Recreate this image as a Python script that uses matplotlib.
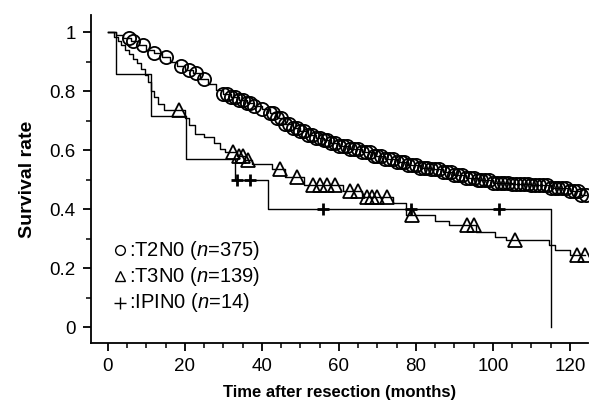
import numpy as np
import matplotlib
matplotlib.use('Agg')
import matplotlib.pyplot as plt
from matplotlib.ticker import MultipleLocator, FixedLocator

plt.rcParams['font.family'] = ['Liberation Sans', 'DejaVu Sans']
plt.rcParams['mathtext.fontset'] = 'custom'
plt.rcParams['mathtext.it'] = 'Liberation Sans:italic'
plt.rcParams['mathtext.rm'] = 'Liberation Sans'

# ---------------- data ----------------
# T2N0 (n=375): Kaplan-Meier steps
t2_times = [0, 2, 4, 6, 8, 10, 12, 14, 16, 18, 20, 22, 24, 26, 28, 30, 32, 34, 36, 38,
            40, 42, 44, 46, 48, 50, 52, 54, 56, 58, 60, 63, 66, 69, 72, 75, 78, 81, 84,
            87, 90, 93, 96, 100, 105, 110, 115, 120, 123]
t2_surv = [1.0, 0.99, 0.98, 0.97, 0.955, 0.94, 0.93, 0.915, 0.90, 0.885, 0.87, 0.86,
           0.84, 0.825, 0.805, 0.79, 0.78, 0.77, 0.76, 0.75, 0.74, 0.725, 0.71, 0.69,
           0.675, 0.665, 0.65, 0.64, 0.635, 0.625, 0.615, 0.605, 0.595, 0.58, 0.57,
           0.56, 0.55, 0.54, 0.535, 0.525, 0.515, 0.505, 0.50, 0.49, 0.485, 0.48,
           0.47, 0.46, 0.447]
t2_censor = [5.5, 6.5, 9, 12, 15, 19, 21, 23, 25, 30, 31, 32, 33, 34, 35, 36, 37, 38,
             40, 42, 43, 44, 45, 46, 47, 48, 49, 50, 51, 52, 53, 54, 55, 56, 57, 58, 59,
             60, 61, 62, 63, 64, 65, 66, 67, 68, 69, 70, 71, 72, 73, 74, 75, 76, 77, 78,
             79, 80, 81, 82, 83, 84, 85, 86, 87, 88, 89, 90, 91, 92, 93, 94, 95, 96, 97,
             98, 99, 100, 101, 102, 103, 104, 105, 106, 107, 108, 109, 110, 111, 112,
             113, 114, 115, 116, 117, 118, 119, 120, 121, 122, 123, 124.3]

# T3N0 (n=139)
t3_times = [0, 1.5, 2.5, 3.5, 4.5, 5.5, 6.5, 7.5, 8.5, 9.5, 10.5, 11.3, 12, 13, 14.5,
            20, 21, 22.5, 25, 27.5, 29, 30.5, 33.5, 35.5, 37.5, 42.5, 46, 51, 61, 66,
            74, 77.5, 85, 88.5, 95.5, 100.5, 103.5, 114.5, 116, 120]
t3_surv = [1.0, 0.985, 0.97, 0.955, 0.94, 0.925, 0.91, 0.895, 0.875, 0.855, 0.83, 0.80,
           0.78, 0.755, 0.735, 0.71, 0.685, 0.655, 0.645, 0.625, 0.605, 0.595, 0.58,
           0.565, 0.553, 0.535, 0.51, 0.48, 0.46, 0.44, 0.42, 0.38, 0.36, 0.345, 0.322,
           0.305, 0.295, 0.278, 0.26, 0.244]
t3_censor = [18.5, 32.5, 34, 35, 36.4, 44.7, 49, 53.3, 55, 57, 59, 62.9, 65, 67.2, 68.6,
             69.9, 72.4, 79, 93.2, 95, 105.7, 121.8, 123.9]

# IPIN0 (n=14)
ip_times = [0, 2, 11.3, 20.3, 33, 41.6, 115]
ip_surv = [1.0, 0.857, 0.714, 0.571, 0.5, 0.4, 0.0]
ip_censor = [33.5, 37, 55.8, 78.8, 101.7]

legend_labels = ['T2N0', 'T3N0', 'IPIN0']
legend_n = [375, 139, 14]

x_ticks = [0, 20, 40, 60, 80, 100, 120]
y_ticks = [0, 0.2, 0.4, 0.6, 0.8, 1.0]
y_ticklabels = ['0', '0.2', '0.4', '0.6', '0.8', '1']

# ---------------- figure ----------------
fig = plt.figure(figsize=(6.01, 4.12), dpi=100)
ax = fig.add_axes([91/601, 1-343/412, (588-91)/601, (343-15)/412])
ax.set_xlim(-4.4, 124.7)
ax.set_ylim(-0.054, 1.058)


def surv_at(times, surv, t):
    idx = np.searchsorted(times, t, side='right') - 1
    return np.asarray(surv)[idx]


def draw_km(times, surv, censor, marker, ms, mew, end=None):
    xs = list(times)
    ys = list(surv)
    if end is not None:
        xs.append(end)
        ys.append(surv[-1])
    ax.step(xs, ys, where='post', color='black', lw=1.0)
    cy = surv_at(times, surv, np.asarray(censor))
    ax.plot(censor, cy, ls='none', marker=marker, ms=ms, mfc='none', mec='black',
            mew=mew)


draw_km(ip_times, ip_surv, ip_censor, '+', 8, 2.0)
draw_km(t3_times, t3_surv, t3_censor, '^', 10, 1.3, end=max(t3_censor))
draw_km(t2_times, t2_surv, t2_censor, 'o', 9.5, 1.3, end=max(t2_censor))

# legend drawn as text
leg_markers = ['o', '^', '+']
leg_ms = [7, 7, 8]
leg_y = [0.261, 0.172, 0.083]
for lab, n, mk, ms, yy in zip(legend_labels, legend_n, leg_markers, leg_ms, leg_y):
    ax.plot([3.1], [yy], marker=mk, ms=ms, mfc='none', mec='black', mew=1.0, ls='none')
    ax.text(5.4, yy, ':' + lab + ' ($n$=' + str(n) + ')', fontsize=14.5,
            va='center', ha='left')

ax.spines['top'].set_visible(False)
ax.spines['right'].set_visible(False)
ax.spines['left'].set_linewidth(1.3)
ax.spines['bottom'].set_linewidth(1.3)

ax.xaxis.set_major_locator(FixedLocator(x_ticks))
ax.xaxis.set_minor_locator(MultipleLocator(5))
ax.yaxis.set_major_locator(FixedLocator(y_ticks))
ax.set_yticklabels(y_ticklabels)
ax.yaxis.set_minor_locator(MultipleLocator(0.1))
ax.tick_params(which='major', direction='out', length=6, width=1.3, labelsize=13.5, pad=5)
ax.tick_params(which='minor', direction='out', length=3.5, width=1.1)

ax.set_xlabel('Time after resection (months)', fontsize=12, fontweight='bold', labelpad=7)
ax.set_ylabel('Survival rate', fontsize=14, fontweight='bold', labelpad=10)

fig.savefig('out.png', dpi=100)
